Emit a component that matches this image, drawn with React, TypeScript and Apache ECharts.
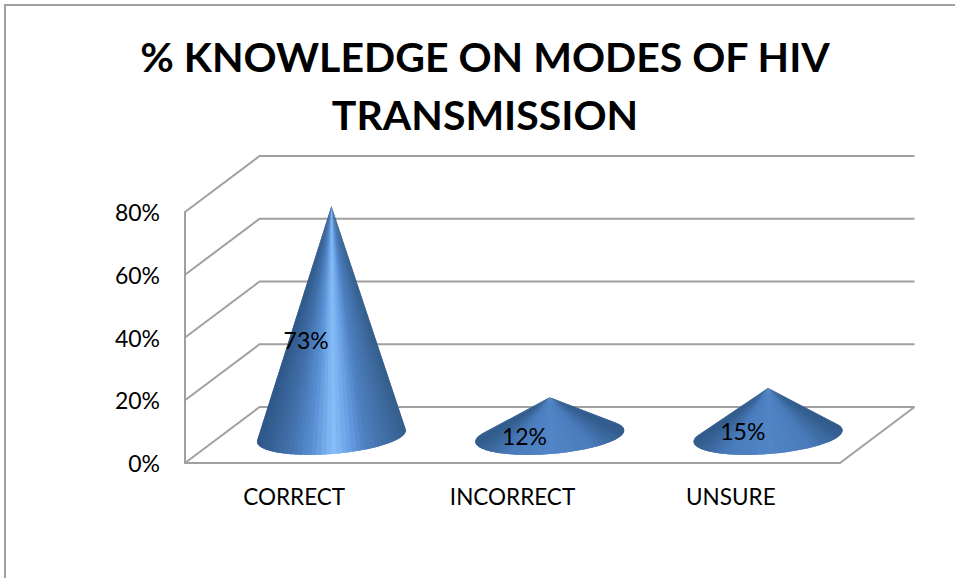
import React, { useEffect, useRef } from "react";
import * as echarts from "echarts";

const titleLines = ["% KNOWLEDGE ON MODES OF HIV", "TRANSMISSION"];
const categories = ["CORRECT", "INCORRECT", "UNSURE"];
const percentValues = [73, 12, 15];
const yTicks = [0, 20, 40, 60, 80];

const FONT = "Lato, Carlito, 'Open Sans', sans-serif";
const LINE = "#a0a0a0";
const DEPTH_X = 74.5;
const DEPTH_Y = 56;
const CONE_A = 74.7;
const CONE_B = 18;
const CONE_ROT = (-4.6 * Math.PI) / 180;
const TALL_STOPS: [number, number[]][] = [
  [0, [47, 88, 136]],
  [0.2, [66, 112, 170]],
  [0.36, [88, 144, 212]],
  [0.5, [135, 189, 248]],
  [0.6, [108, 164, 232]],
  [0.72, [78, 128, 192]],
  [1, [52, 94, 140]],
];
const SHORT_STOPS: [number, number[]][] = [
  [0, [50, 92, 140]],
  [0.22, [74, 124, 188]],
  [0.5, [81, 133, 198]],
  [0.78, [74, 124, 188]],
  [1, [50, 92, 140]],
];

function shade(stops: [number, number[]][], u: number) {
  for (let i = 1; i < stops.length; i++) {
    if (u <= stops[i][0]) {
      const [u0, c0] = stops[i - 1];
      const [u1, c1] = stops[i];
      const t = (u - u0) / (u1 - u0);
      const c = c0.map((v, k) => Math.round(v + (c1[k] - v) * t));
      return `rgb(${c.join(",")})`;
    }
  }
  return `rgb(${stops[stops.length - 1][1].join(",")})`;
}

function renderWall(params: any, api: any) {
  const tick = api.value(1);
  const left = params.coordSys.x;
  const right = left + params.coordSys.width;
  const y = api.coord([0, tick])[1];
  const style = { stroke: LINE, lineWidth: 2, fill: "none" };
  const children: any[] = [
    {
      type: "polyline",
      shape: {
        points: [
          [left, y],
          [left + DEPTH_X, y - DEPTH_Y],
          [right + DEPTH_X, y - DEPTH_Y],
        ],
      },
      style,
    },
  ];
  if (tick === 0) {
    children.push({
      type: "line",
      shape: { x1: right, y1: y, x2: right + DEPTH_X, y2: y - DEPTH_Y },
      style,
    });
  }
  return { type: "group", children };
}

function renderCone(params: any, api: any) {
  const idx = api.value(0);
  const v = api.value(1);
  const base = api.coord([idx, 0]);
  const top = api.coord([idx, v]);
  const mid = api.coord([idx, v / 2]);
  const cx = base[0] + DEPTH_X / 2;
  const cy = base[1] - DEPTH_Y / 2 + 1;
  const ax = cx;
  const ay = top[1] - DEPTH_Y / 2;
  const cos = Math.cos(CONE_ROT);
  const sin = Math.sin(CONE_ROT);
  const toWorld = (t: number) => {
    const ex = CONE_A * Math.cos(t);
    const ey = CONE_B * Math.sin(t);
    return [cx + ex * cos - ey * sin, cy + ex * sin + ey * cos];
  };
  const dx = ax - cx;
  const dy = ay - cy;
  const lx = (dx * cos + dy * sin) / CONE_A;
  const ly = (-dx * sin + dy * cos) / CONE_B;
  const r = Math.hypot(lx, ly);
  const phi = Math.atan2(ly, lx);
  const off = Math.acos(Math.min(1, 1 / r));
  // front arc runs through the bottom of the ellipse on screen
  const startT = phi + off;
  let endT = phi - off;
  while (endT < startT) endT += Math.PI * 2;
  const N = 48;
  const stops = v > 40 ? TALL_STOPS : SHORT_STOPS;
  const children: any[] = [];
  // paint right-to-left: each slice overlaps the previous one, hiding seams
  for (let i = 0; i < N; i++) {
    const t0 = startT + ((endT - startT) * i) / N;
    const t1 = startT + ((endT - startT) * Math.min(N, i + 2)) / N;
    const tm = startT + ((endT - startT) * (i + 0.5)) / N;
    const u = (Math.cos(tm) + 1) / 2;
    const color = shade(stops, u);
    const pts: number[][] = [[ax, ay]];
    for (let k = 0; k <= 4; k++) pts.push(toWorld(t0 + ((t1 - t0) * k) / 4));
    children.push({
      type: "polygon",
      shape: { points: pts },
      style: { fill: color },
    });
  }
  children.push({
    type: "text",
    style: {
      text: `${v}%`,
      x: base[0] + 12,
      y: mid[1] - 8,
      align: "center",
      verticalAlign: "middle",
      fontSize: 23,
      fontFamily: FONT,
      fill: "#000",
    },
  });
  return { type: "group", children };
}

export default function App() {
  const ref = useRef<HTMLDivElement>(null);
  useEffect(() => {
    const chart = echarts.init(ref.current!, null, { renderer: "svg" });
    chart.setOption({
      animation: false,
      backgroundColor: "#fff",
      title: {
        text: titleLines.join("\n"),
        left: 485,
        top: 27,
        textAlign: "center",
        padding: 0,
        textStyle: {
          fontFamily: FONT,
          fontWeight: "bold",
          fontSize: 41,
          lineHeight: 58,
          color: "#000",
        },
      },
      graphic: [
        {
          type: "polyline",
          shape: { points: [[5, 578], [5, 5], [955, 5]] },
          style: { stroke: LINE, lineWidth: 2, fill: "none" },
        },
      ],
      grid: { left: 185, top: 212, width: 655, height: 251 },
      xAxis: {
        type: "category",
        data: categories,
        axisTick: { show: false },
        axisLine: { lineStyle: { color: LINE, width: 2 } },
        axisLabel: { color: "#000", fontFamily: FONT, fontSize: 22.5, margin: 22 },
      },
      yAxis: {
        type: "value",
        min: 0,
        max: 80,
        interval: 20,
        splitLine: { show: false },
        axisTick: { show: false },
        axisLine: { show: true, lineStyle: { color: LINE, width: 2 } },
        axisLabel: {
          color: "#000",
          fontFamily: FONT,
          fontSize: 23,
          margin: 25,
          formatter: "{value}%",
        },
      },
      series: [
        {
          type: "custom",
          coordinateSystem: "cartesian2d",
          silent: true,
          data: yTicks.map((t) => [categories[0], t]),
          encode: { x: 0, y: 1 },
          renderItem: renderWall,
          z: 1,
        },
        {
          type: "custom",
          coordinateSystem: "cartesian2d",
          silent: true,
          data: categories.map((c, i) => [c, percentValues[i]]),
          encode: { x: 0, y: 1 },
          renderItem: renderCone,
          z: 5,
        },
      ],
    });
    return () => chart.dispose();
  }, []);
  return (
    <div
      ref={ref}
      style={{ position: "absolute", left: 0, top: 0, width: 955, height: 578 }}
    />
  );
}
